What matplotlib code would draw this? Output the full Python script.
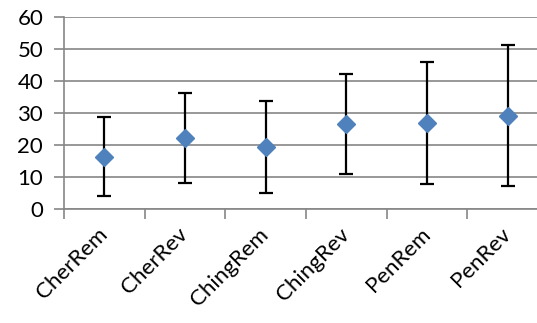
import numpy as np
import matplotlib
matplotlib.use("Agg")
import matplotlib.pyplot as plt

categories = ["CherRem", "CherRev", "ChingRem", "ChingRev", "PenRem", "PenRev"]
means = [16.4, 22.1, 19.4, 26.5, 26.8, 29.2]
errors = [12.4, 14.0, 14.4, 15.6, 19.1, 21.9]
y_ticks = [0, 10, 20, 30, 40, 50, 60]

plt.rcParams['font.family'] = ['Lato', 'DejaVu Sans']

fig = plt.figure(figsize=(5.37, 3.23), dpi=100)
ax = fig.add_axes([64 / 537, 1 - 209 / 323, 484 / 537, 192 / 323])

grid_c = "#868686"
x = np.arange(len(categories))
ax.errorbar(x, means, yerr=errors, fmt="none", ecolor="black",
            elinewidth=1.6, capsize=5, capthick=1.6, zorder=3)
ax.plot(x, means, linestyle="none", marker="D", markersize=9,
        color="#4F81BD", zorder=4)

ax.set_xlim(-0.5, len(categories) - 0.5)
ax.set_ylim(0, 60)
ax.set_yticks(y_ticks)
ax.set_yticklabels([str(v) for v in y_ticks], fontsize=16)
ax.yaxis.grid(True, color=grid_c, linewidth=1.2)
ax.set_axisbelow(True)

ax.set_xticks(np.arange(-0.5, len(categories), 1))
ax.set_xticklabels([])
ax.set_xticks(x, minor=True)
ax.set_xticklabels(categories, minor=True, fontsize=16, rotation=45,
                   ha="right", va="center", rotation_mode="anchor")
ax.tick_params(axis="x", which="minor", length=0, pad=16)
ax.tick_params(axis="x", which="major", length=7, color=grid_c, width=1.2)
ax.tick_params(axis="y", length=7, color=grid_c, width=1.2, pad=8)

for s in ["top", "right"]:
    ax.spines[s].set_visible(False)
for s in ["left", "bottom"]:
    ax.spines[s].set_color(grid_c)
    ax.spines[s].set_linewidth(1.2)

fig.savefig("out.png", dpi=100)
